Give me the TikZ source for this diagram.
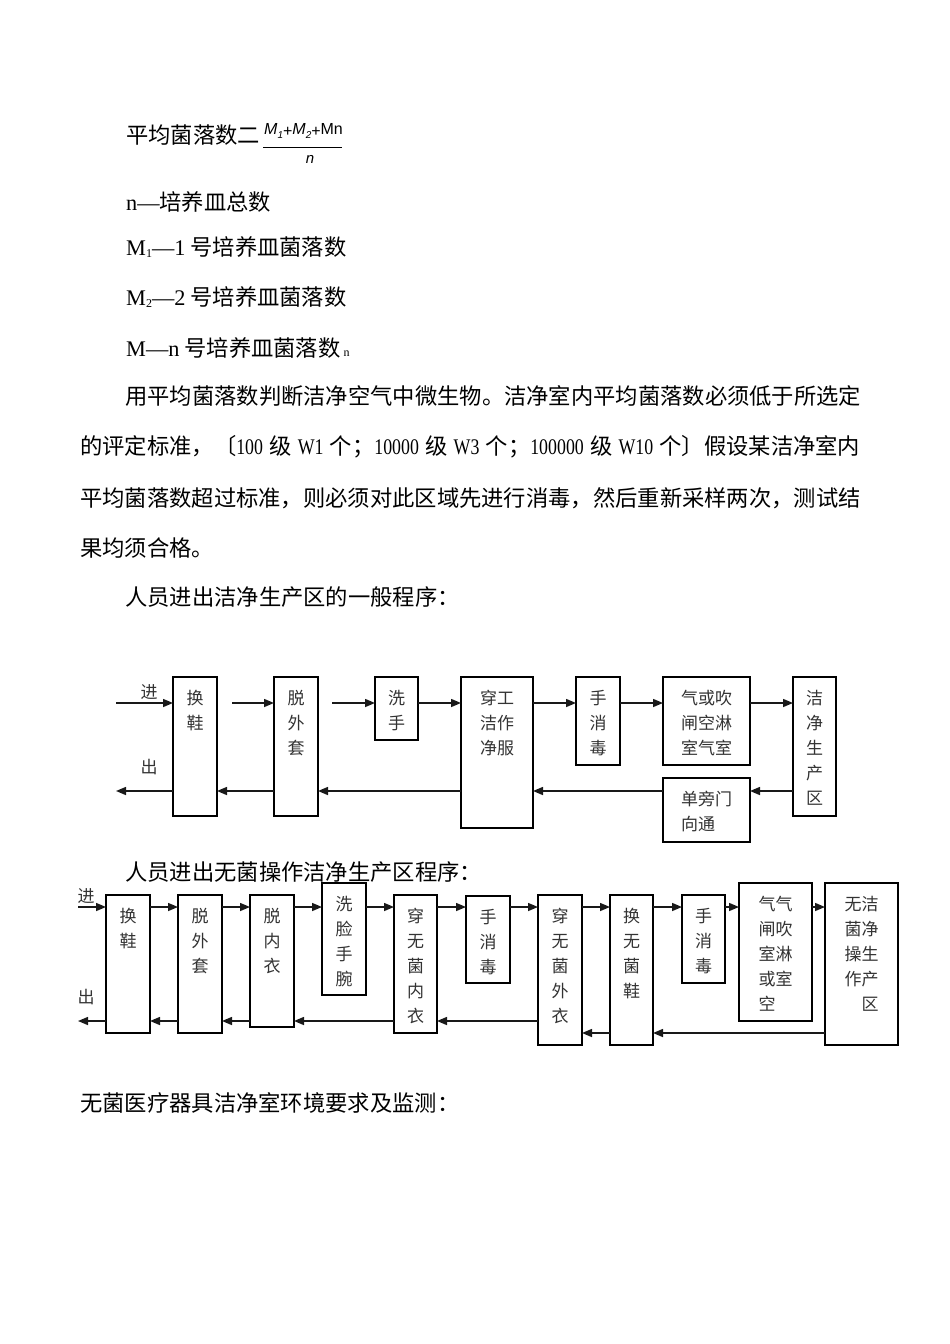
\documentclass[tikz,border=0pt]{standalone}
\usepackage{fontspec}
\setmainfont{Liberation Serif}
\newfontfamily\cjk{Noto Sans CJK SC}
\newfontfamily\arial{Liberation Sans}
\newfontfamily\narrow[FakeStretch=0.8]{Liberation Serif}
\usetikzlibrary{arrows.meta}
\tikzset{
  fbox/.style={draw=black, line width=1.3pt, inner sep=0pt, outer sep=0pt},
  ftext/.style={font=\cjk\fontsize{17}{25}\selectfont, align=center, inner sep=0pt, text=black!80},
  flow/.style={line width=1.5pt, draw=black!90, -{Triangle[length=10pt,width=8pt]}},
  para/.style={font=\cjk\fontsize{22.3}{26}\selectfont, anchor=west, inner sep=0pt},
  side/.style={font=\cjk\fontsize{17}{20}\selectfont, inner sep=0pt, text=black!80},
}
\newcommand\flowbox[6]{%
  \node[fbox, anchor=north west, minimum width={(#4)-(#2)}, minimum height={(#5)-(#3)}] (#1) at (#2,#3) {};%
  \node[ftext, anchor=north] (#1t) at ([yshift=-13pt]#1.north) {#6};}
\newcommand\edash{{\rmfamily —}}
\begin{document}
\begin{tikzpicture}[x=1pt,y=-1pt]
\fill[white] (0,0) rectangle (950,1344);
\useasboundingbox (0,0) rectangle (950,1344);

% formula
\node[para] (f0) at (126,135) {平均菌落数二};
\node[anchor=west, inner sep=0pt, font=\arial\fontsize{16}{16}\selectfont] (fnum) at (264,131)
  {\itshape M\raisebox{-4pt}{\fontsize{10}{10}\selectfont 1}\raisebox{-2pt}{\upshape +}M\raisebox{-4pt}{\fontsize{10}{10}\selectfont 2}\raisebox{-2pt}{\upshape +}\upshape Mn};
\coordinate (fl) at (263,147);
\coordinate (fr) at (342,147);
\draw[line width=0.8pt] (fl) -- (fr);
\node[inner sep=0pt, font=\arial\itshape\fontsize{15}{15}\selectfont] (fden) at (310,159) {n};

\node[para] (l1) at (126,202) {{\rmfamily n}\edash 培养皿总数};
\node[para] (l2) at (126,247) {{\rmfamily M\raisebox{-2pt}{\fontsize{12}{12}\selectfont 1}}\edash{\rmfamily 1} 号培养皿菌落数};
\node[para] (l3) at (126,297) {{\rmfamily M\raisebox{-2pt}{\fontsize{12}{12}\selectfont 2}}\edash{\rmfamily 2} 号培养皿菌落数};
\node[para] (l4) at (126,348) {{\rmfamily M}\edash{\rmfamily n} 号培养皿菌落数{\rmfamily\fontsize{12}{12}\selectfont\ n}};

\node[para] (p1) at (125,396) {用平均菌落数判断洁净空气中微生物。洁净室内平均菌落数必须低于所选定};
\node[para] (p2) at (80,447) {\makebox[780pt][s]{的评定标准，〔{\narrow 100} 级 {\narrow W1} 个；{\narrow 10000} 级 {\narrow W3} 个；{\narrow 100000} 级 {\narrow W10} 个〕假设某洁净室内}};
\node[para] (p3) at (80,498) {平均菌落数超过标准，则必须对此区域先进行消毒，然后重新采样两次，测试结};
\node[para] (p4) at (80,548) {果均须合格。};
\node[para] (p5) at (125,597) {人员进出洁净生产区的一般程序：};

% diagram 1
\flowbox{a1}{173}{677}{217}{816}{换\\鞋}
\flowbox{a2}{274}{677}{318}{816}{脱\\外\\套}
\flowbox{a3}{375}{677}{418}{740}{洗\\手}
\flowbox{a4}{461}{677}{533}{828}{穿工\\洁作\\净服}
\flowbox{a5}{576}{677}{620}{765}{手\\消\\毒}
\flowbox{a6}{663}{677}{750}{765}{气或吹\\闸空淋\\室气室}
\flowbox{a7}{793}{677}{836}{816}{洁\\净\\生\\产\\区}
\flowbox{a8}{663}{778}{750}{842}{单旁门\\向通\phantom{门}}
\node[side] (ajin) at (149,692) {进};
\node[side] (achu) at (149,767) {出};
\coordinate (a-in) at (116,703);
\coordinate (a-out) at (116,791);
\draw[flow] (a-in) -- (a1.west |- a-in);
\draw[flow, shorten <=15pt] (a1.east |- a-in) -- (a2.west |- a-in);
\draw[flow, shorten <=14pt] (a2.east |- a-in) -- (a3.west |- a-in);
\draw[flow] (a3.east |- a-in) -- (a4.west |- a-in);
\draw[flow] (a4.east |- a-in) -- (a5.west |- a-in);
\draw[flow] (a5.east |- a-in) -- (a6.west |- a-in);
\draw[flow] (a6.east |- a-in) -- (a7.west |- a-in);
\draw[flow] (a7.west |- a-out) -- (a8.east |- a-out);
\draw[flow] (a8.west |- a-out) -- (a4.east |- a-out);
\draw[flow] (a4.west |- a-out) -- (a2.east |- a-out);
\draw[flow] (a2.west |- a-out) -- (a1.east |- a-out);
\draw[flow] (a1.west |- a-out) -- (a-out);

\node[para] (h2) at (125,872) {人员进出无菌操作洁净生产区程序：};

% diagram 2
\flowbox{b1}{106}{895}{150}{1033}{换\\鞋}
\flowbox{b2}{178}{895}{222}{1033}{脱\\外\\套}
\flowbox{b3}{250}{895}{294}{1027}{脱\\内\\衣}
\flowbox{b4}{322}{883}{366}{995}{洗\\脸\\手\\腕}
\flowbox{b5}{394}{895}{437}{1033}{穿\\无\\菌\\内\\衣}
\flowbox{b6}{466}{896}{510}{983}{手\\消\\毒}
\flowbox{b7}{538}{895}{582}{1045}{穿\\无\\菌\\外\\衣}
\flowbox{b8}{610}{895}{653}{1045}{换\\无\\菌\\鞋}
\flowbox{b9}{682}{895}{725}{983}{手\\消\\毒}
\flowbox{b10}{739}{883}{812}{1021}{气气\\闸吹\\室淋\\或室\\空\phantom{室}}
\flowbox{b11}{825}{883}{898}{1045}{无洁\\菌净\\操生\\作产\\\phantom{作}区}
\node[side] (bjin) at (86,896) {进};
\node[side] (bchu) at (86,997) {出};
\coordinate (b-in) at (78,907);
\coordinate (b-out) at (78,1021);
\coordinate (b-low) at (0,1033);
\draw[flow] (b-in) -- (b1.west |- b-in);
\draw[flow] (b1.east |- b-in) -- (b2.west |- b-in);
\draw[flow] (b2.east |- b-in) -- (b3.west |- b-in);
\draw[flow] (b3.east |- b-in) -- (b4.west |- b-in);
\draw[flow] (b4.east |- b-in) -- (b5.west |- b-in);
\draw[flow] (b5.east |- b-in) -- (b6.west |- b-in);
\draw[flow] (b6.east |- b-in) -- (b7.west |- b-in);
\draw[flow] (b7.east |- b-in) -- (b8.west |- b-in);
\draw[flow] (b8.east |- b-in) -- (b9.west |- b-in);
\draw[flow] (b9.east |- b-in) -- (b10.west |- b-in);
\draw[flow] (b10.east |- b-in) -- (b11.west |- b-in);
\draw[flow] (b11.west |- b-low) -- (b8.east |- b-low);
\draw[flow] (b8.west |- b-low) -- (b7.east |- b-low);
\draw[flow] (b7.west |- b-out) -- (b5.east |- b-out);
\draw[flow] (b5.west |- b-out) -- (b3.east |- b-out);
\draw[flow] (b3.west |- b-out) -- (b2.east |- b-out);
\draw[flow] (b2.west |- b-out) -- (b1.east |- b-out);
\draw[flow] (b1.west |- b-out) -- (b-out);

\node[para] (last) at (80,1103) {无菌医疗器具洁净室环境要求及监测：};
\end{tikzpicture}
\end{document}
